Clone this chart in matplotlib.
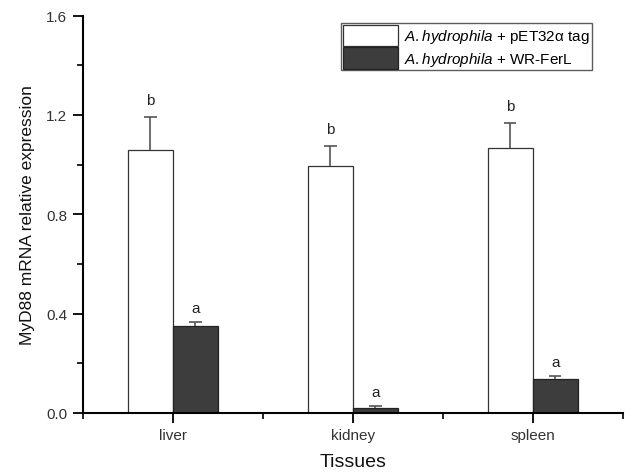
import matplotlib
matplotlib.use("Agg")
import matplotlib.pyplot as plt
import numpy as np
from matplotlib.patches import Patch

plt.rcParams['font.family'] = ['Liberation Sans', 'DejaVu Sans']
plt.rcParams['mathtext.fontset'] = 'custom'
plt.rcParams['mathtext.it'] = 'Liberation Sans:italic'
plt.rcParams['mathtext.rm'] = 'Liberation Sans'

tissues = ["liver", "kidney", "spleen"]
control_mean = [1.059, 0.996, 1.066]
control_err = [0.134, 0.081, 0.102]
ferl_mean = [0.352, 0.019, 0.137]
ferl_err = [0.014, 0.008, 0.011]
control_letters = ["b", "b", "b"]
ferl_letters = ["a", "a", "a"]
legend_labels = [r"$\it{A.hydrophila}$ + pET32α tag", r"$\it{A.hydrophila}$ + WR-FerL"]

fig = plt.figure(figsize=(6.3, 4.77), dpi=100)
ax = fig.add_axes([0.1313, 0.1321, 0.8571, 0.833])

x = np.arange(len(tissues))
w = 0.25
err_color = "#555555"
cap = 0.035

ax.bar(x - w / 2, control_mean, w, color="white", edgecolor="#333333", linewidth=0.9)
ax.bar(x + w / 2, ferl_mean, w, color="#3d3d3d", edgecolor="#222222", linewidth=0.9)

# upper-only error bars with a cap on top
for pos, m, e in zip(np.concatenate([x - w / 2, x + w / 2]),
                     control_mean + ferl_mean, control_err + ferl_err):
    ax.vlines(pos, m, m + e, color=err_color, linewidth=1.2, zorder=3)
    ax.hlines(m + e, pos - cap, pos + cap, color=err_color, linewidth=1.2, zorder=3)

for i in range(len(tissues)):
    ax.text(x[i] - w / 2, control_mean[i] + control_err[i] + 0.04, control_letters[i],
            ha="center", va="bottom", fontsize=11, color="#222222")
    ax.text(x[i] + w / 2, ferl_mean[i] + ferl_err[i] + 0.03, ferl_letters[i],
            ha="center", va="bottom", fontsize=11, color="#222222")

ax.set_xlim(-0.5, 2.5)
ax.set_ylim(0, 1.6)
ax.set_xticks(x)
ax.set_xticklabels(tissues)
ax.set_xticks([-0.5, 0.5, 1.5, 2.5], minor=True)
ax.set_yticks([0.0, 0.4, 0.8, 1.2, 1.6])
ax.set_yticklabels(["0.0", "0.4", "0.8", "1.2", "1.6"])
ax.set_yticks([0.2, 0.6, 1.0, 1.4], minor=True)

for s in ["top", "right"]:
    ax.spines[s].set_visible(False)
for s in ["left", "bottom"]:
    ax.spines[s].set_linewidth(1.5)
    ax.spines[s].set_color("black")

ax.tick_params(which="major", direction="out", length=7, width=1.3, labelsize=11,
               labelcolor="#333333", pad=4)
ax.tick_params(which="minor", direction="out", length=4, width=1.2)

ax.set_xlabel("Tissues", fontsize=14, labelpad=8, color="#111111")
ax.set_ylabel("MyD88 mRNA relative expression", fontsize=12.5, labelpad=8, color="#111111")

handles = [Patch(facecolor="white", edgecolor="#333333", linewidth=0.9),
           Patch(facecolor="#3d3d3d", edgecolor="#222222", linewidth=0.9)]
leg = ax.legend(handles, legend_labels, loc="upper right", bbox_to_anchor=(0.948, 0.99),
                fontsize=11, frameon=True, fancybox=False, borderpad=0.12,
                labelspacing=0.05, handlelength=3.6, handleheight=1.8,
                handletextpad=0.4, borderaxespad=0.2)
leg.get_frame().set_edgecolor("#333333")
leg.get_frame().set_linewidth(1.0)

fig.savefig("out.png", dpi=100)
